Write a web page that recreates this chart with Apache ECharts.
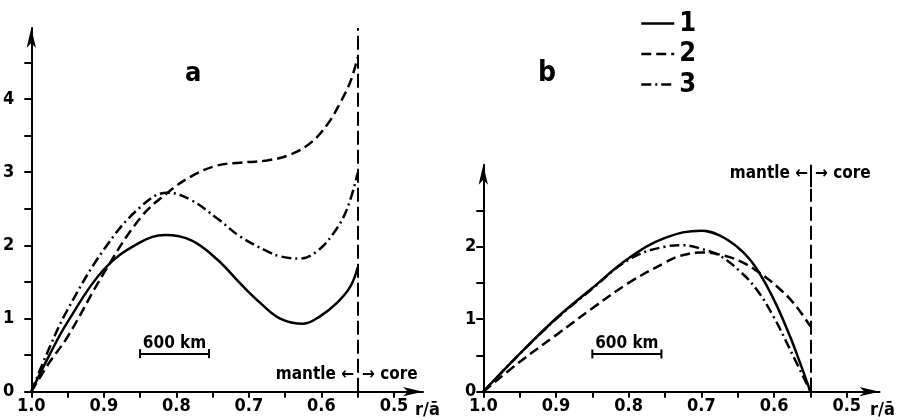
<!DOCTYPE html>
<html>
<head>
<meta charset="utf-8">
<script src="https://cdn.jsdelivr.net/npm/echarts@6/dist/echarts.min.js"></script>
<style>
  html, body { margin: 0; padding: 0; background: #fff; }
  #main { width: 900px; height: 420px; }
</style>
</head>
<body>
<div id="main"></div>
<script>
// tick positions and labels (r/ā axis runs from 1.0 down to 0.5)
var xTicks = [1.0, 0.95, 0.9, 0.85, 0.8, 0.75, 0.7, 0.65, 0.6, 0.55, 0.5];
var xLabels = [1.0, 0.9, 0.8, 0.7, 0.6, 0.5];
var yTicksA = [0, 0.5, 1, 1.5, 2, 2.5, 3, 3.5, 4, 4.5];
var yLabelsA = [0, 1, 2, 3, 4];
var yTicksB = [0, 0.5, 1, 1.5, 2, 2.5];
var yLabelsB = [0, 1, 2];
var names = ['1', '2', '3'];
var boundary = 0.55;     // mantle / core
var scaleBar = [0.85, 0.755];  // 600 km

// panel a : [r/a, value]
var a1 = [[1.0, 0], [0.975, 0.5], [0.95, 0.95], [0.9, 1.67], [0.85, 2.04], [0.815, 2.14], [0.78, 2.07], [0.744, 1.81],
  [0.712, 1.48], [0.684, 1.21], [0.657, 1.0], [0.625, 0.93], [0.602, 1.03], [0.579, 1.21], [0.56, 1.44], [0.55, 1.7]];
var a2 = [[1.0, 0], [0.975, 0.4], [0.95, 0.75], [0.9, 1.62], [0.85, 2.37], [0.812, 2.72], [0.78, 2.94], [0.744, 3.09],
  [0.712, 3.13], [0.675, 3.16], [0.643, 3.24], [0.615, 3.4], [0.592, 3.65], [0.574, 3.95], [0.56, 4.24], [0.55, 4.57]];
var a3 = [[1.0, 0], [0.975, 0.6], [0.95, 1.12], [0.9, 1.94], [0.85, 2.52], [0.812, 2.72], [0.78, 2.62], [0.744, 2.37],
  [0.712, 2.12], [0.675, 1.92], [0.657, 1.85], [0.629, 1.82], [0.606, 1.92], [0.583, 2.17], [0.565, 2.49], [0.55, 2.99]];

// panel b
var b1 = [[1.0, 0], [0.95, 0.52], [0.9, 1.01], [0.85, 1.43], [0.8, 1.84], [0.75, 2.12], [0.7, 2.22], [0.674, 2.15],
  [0.651, 2.0], [0.633, 1.82], [0.615, 1.55], [0.596, 1.18], [0.578, 0.76], [0.564, 0.39], [0.55, 0]];
var b2 = [[1.0, 0], [0.95, 0.41], [0.9, 0.78], [0.85, 1.15], [0.8, 1.5], [0.75, 1.78], [0.73, 1.87], [0.7, 1.92],
  [0.674, 1.89], [0.647, 1.8], [0.62, 1.64], [0.596, 1.45], [0.573, 1.22], [0.55, 0.9]];
var b3 = [[1.0, 0], [0.95, 0.52], [0.9, 1.0], [0.85, 1.42], [0.8, 1.82], [0.75, 2.0], [0.725, 2.02], [0.7, 1.97],
  [0.674, 1.87], [0.647, 1.66], [0.624, 1.41], [0.601, 1.04], [0.578, 0.58], [0.55, 0]];

var FONT = '"DejaVu Sans Condensed", "DejaVu Sans", sans-serif';
var dashes = ['solid', [10, 5], [10, 4, 2, 4]];

function xAxis(idx, min) {
  return {
    type: 'value', gridIndex: idx, inverse: true, min: min, max: 1.0,
    axisLine: { lineStyle: { color: '#000', width: 2 }, symbol: ['none', 'arrow'], symbolSize: [7, 20] },
    axisTick: { customValues: xTicks, length: 6, lineStyle: { color: '#000', width: 2 } },
    axisLabel: {
      customValues: xLabels, margin: 6, color: '#000', fontFamily: FONT, fontSize: 18, fontWeight: 'bold',
      formatter: function (v) { return v.toFixed(1); }
    },
    splitLine: { show: false }
  };
}

function yAxis(idx, max, ticks, labels, margin) {
  return {
    type: 'value', gridIndex: idx, min: 0, max: max,
    axisLine: { lineStyle: { color: '#000', width: 2 }, symbol: ['none', 'arrow'], symbolSize: [7, 20] },
    axisTick: { customValues: ticks, length: 7, lineStyle: { color: '#000', width: 2 } },
    axisLabel: { customValues: labels, margin: margin, color: '#000', fontFamily: FONT, fontSize: 18, fontWeight: 'bold' },
    splitLine: { show: false }
  };
}

function curve(name, data, i, panel, extra) {
  var s = {
    name: name, type: 'line', xAxisIndex: panel, yAxisIndex: panel,
    data: data, smooth: 0.4, symbol: 'none',
    lineStyle: { color: '#000', width: 2.5, type: dashes[i] },
    itemStyle: { color: '#000' }
  };
  if (extra) s.markLine = extra;
  return s;
}

function markers(top, smallBar) {
  var data = [
    [{ coord: [boundary, 0] }, { coord: [boundary, top] }],
    [{ coord: [scaleBar[0], 0.52], symbol: 'rect', symbolSize: [9, 2] },
     { coord: [scaleBar[1], 0.52], symbol: 'rect', symbolSize: [9, 2],
       lineStyle: { type: 'solid', width: 2 },
       label: { show: true, formatter: '600 km', position: 'middle', distance: 2,
                color: '#000', fontFamily: FONT, fontSize: 17, fontWeight: 'bold' } }]
  ];
  if (smallBar) {
    data.push([{ coord: [boundary, smallBar[0]] }, { coord: [boundary, smallBar[1]], lineStyle: { type: 'solid', width: 2 } }]);
  }
  return {
    silent: true, symbol: 'none', label: { show: false },
    lineStyle: { color: '#000', width: 2, type: [14, 5] },
    data: data
  };
}

var myChart = echarts.init(document.getElementById('main'));
var option = {
  animation: false,
  backgroundColor: '#fff',
  grid: [
    { left: 30, top: 28, width: 393, bottom: 28.3 },
    { left: 483.3, top: 164.7, width: 396.2, bottom: 28.3 }
  ],
  xAxis: [xAxis(0, 0.46), xAxis(1, 0.455)],
  yAxis: [yAxis(0, 4.97, yTicksA, yLabelsA, 17), yAxis(1, 3.13, yTicksB, yLabelsB, 7)],
  legend: {
    data: names, orient: 'vertical', left: 640, top: 10, padding: 0,
    itemWidth: 33, itemHeight: 14, itemGap: 3.5,
    itemStyle: { color: 'rgba(0,0,0,0)', borderWidth: 0, opacity: 0 },
    lineStyle: { width: 2.5 },
    textStyle: { color: '#000', fontFamily: FONT, fontSize: 27, fontWeight: 'bold', lineHeight: 26, padding: [0, 0, 0, 0] }
  },
  series: [
    curve(names[0], a1, 0, 0, markers(4.97)),
    curve(names[1], a2, 1, 0),
    curve(names[2], a3, 2, 0),
    curve(names[0], b1, 0, 1, markers(2.8, [2.82, 3.13])),
    curve(names[1], b2, 1, 1),
    curve(names[2], b3, 2, 1)
  ],
  graphic: [
    { type: 'text', left: 185, top: 60, style: { text: 'a', font: 'bold 27px ' + FONT, fill: '#000' } },
    { type: 'text', left: 538, top: 60, style: { text: 'b', font: 'bold 28px ' + FONT, fill: '#000' } },
    { type: 'text', x: 354, y: 375, style: { text: 'mantle ←', font: 'bold 17px ' + FONT, fill: '#000', align: 'right', verticalAlign: 'middle' } },
    { type: 'text', x: 362, y: 375, style: { text: '→ core', font: 'bold 17px ' + FONT, fill: '#000', align: 'left', verticalAlign: 'middle' } },
    { type: 'text', x: 808, y: 174, style: { text: 'mantle ←', font: 'bold 17px ' + FONT, fill: '#000', align: 'right', verticalAlign: 'middle' } },
    { type: 'text', x: 815, y: 174, style: { text: '→ core', font: 'bold 17px ' + FONT, fill: '#000', align: 'left', verticalAlign: 'middle' } },
    { type: 'text', x: 415, y: 410, style: { text: 'r/ā', font: 'bold 18px ' + FONT, fill: '#000', verticalAlign: 'middle' } },
    { type: 'text', x: 870, y: 410, style: { text: 'r/ā', font: 'bold 18px ' + FONT, fill: '#000', verticalAlign: 'middle' } }
  ]
};
myChart.setOption(option);
</script>
</body>
</html>
